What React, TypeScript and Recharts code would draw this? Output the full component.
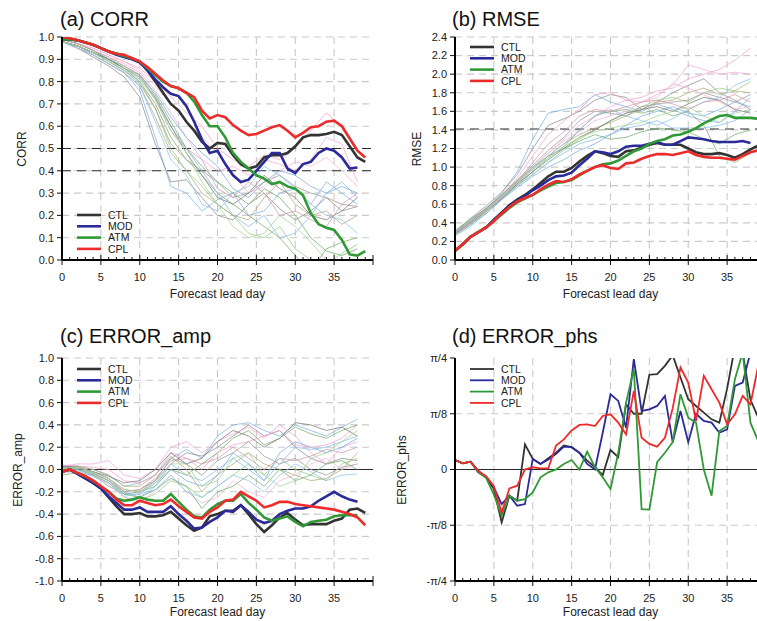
import React from "react";
import { CartesianGrid, Line, LineChart, ReferenceLine, XAxis, YAxis } from "recharts";

const FONT = "'Liberation Sans', Arial, Helvetica, sans-serif";

const DAYS = [
  0, 1, 2, 3, 4, 5, 6, 7, 8, 9, 10, 11, 12, 13, 14, 15, 16, 17, 18, 19,
  20, 21, 22, 23, 24, 25, 26, 27, 28, 29, 30, 31, 32, 33, 34, 35, 36, 37, 38, 39,
];
const X_TICKS = [
  0, 1, 2, 3, 4, 5, 6, 7, 8, 9, 10, 11, 12, 13, 14, 15, 16, 17, 18, 19, 20,
  21, 22, 23, 24, 25, 26, 27, 28, 29, 30, 31, 32, 33, 34, 35, 36, 37, 38, 39, 40,
];
const X_GRID = [5, 10, 15, 20, 25, 30, 35];
// ensemble members were read every second day
const THIN_DAYS = [0, 2, 4, 6, 8, 10, 12, 14, 16, 18, 20, 22, 24, 26, 28, 30, 32, 34, 36, 38];
const EXPERIMENTS = ["CTL", "MOD", "ATM", "CPL"];

// (a) CORR
const CORR_TICKS = [0, 0.1, 0.2, 0.3, 0.4, 0.5, 0.6, 0.7, 0.8, 0.9, 1.0];
const CORR_CTL = [
  0.99, 0.99, 0.985, 0.975, 0.965, 0.95, 0.935, 0.925, 0.915, 0.905,
  0.89, 0.85, 0.8, 0.75, 0.7, 0.67, 0.62, 0.58, 0.53, 0.5,
  0.525, 0.52, 0.47, 0.43, 0.41, 0.42, 0.46, 0.47, 0.47, 0.48,
  0.51, 0.55, 0.56, 0.56, 0.565, 0.575, 0.56, 0.51, 0.46, 0.44,
];
const CORR_MOD = [
  0.99, 0.99, 0.985, 0.975, 0.965, 0.95, 0.935, 0.92, 0.91, 0.9,
  0.885, 0.85, 0.81, 0.775, 0.745, 0.735, 0.69, 0.62, 0.54, 0.48,
  0.49, 0.43, 0.38, 0.35, 0.36, 0.4, 0.44, 0.48, 0.48, 0.41,
  0.39, 0.43, 0.44, 0.48, 0.5, 0.49, 0.46, 0.41, 0.415, null,
];
const CORR_ATM = [
  0.99, 0.99, 0.985, 0.975, 0.965, 0.95, 0.935, 0.925, 0.915, 0.905,
  0.89, 0.86, 0.83, 0.8, 0.78, 0.77, 0.75, 0.71, 0.65, 0.6,
  0.6, 0.55, 0.48, 0.44, 0.41, 0.38, 0.365, 0.34, 0.35, 0.33,
  0.32, 0.29, 0.21, 0.16, 0.145, 0.135, 0.09, 0.025, 0.02, 0.04,
];
const CORR_CPL = [
  1.0, 0.995, 0.985, 0.975, 0.965, 0.95, 0.935, 0.925, 0.92, 0.905,
  0.89, 0.865, 0.835, 0.805, 0.78, 0.77, 0.75, 0.73, 0.67, 0.635,
  0.65, 0.64, 0.605, 0.58, 0.56, 0.565, 0.58, 0.595, 0.605, 0.58,
  0.55, 0.57, 0.595, 0.6, 0.62, 0.625, 0.6, 0.545, 0.49, 0.46,
];
const CORR_MEMBERS = [
  [0.98, 0.95, 0.92, 0.88, 0.84, 0.76, 0.55, 0.33, 0.3, 0.22, 0.27, 0.3, 0.2, 0.22, 0.3, 0.32, 0.25, 0.35, 0.3, 0.25],
  [0.98, 0.95, 0.91, 0.87, 0.82, 0.73, 0.52, 0.35, 0.36, 0.28, 0.2, 0.18, 0.25, 0.3, 0.23, 0.18, 0.22, 0.28, 0.22, 0.24],
  [0.99, 0.97, 0.95, 0.92, 0.89, 0.86, 0.8, 0.73, 0.66, 0.6, 0.5, 0.45, 0.42, 0.47, 0.45, 0.5, 0.58, 0.66, 0.6, 0.5],
  [0.99, 0.97, 0.94, 0.91, 0.88, 0.84, 0.76, 0.66, 0.55, 0.45, 0.4, 0.42, 0.38, 0.45, 0.43, 0.4, 0.45, 0.55, 0.52, 0.35],
  [0.98, 0.96, 0.93, 0.9, 0.86, 0.8, 0.7, 0.55, 0.45, 0.38, 0.3, 0.25, 0.2, 0.15, 0.1, 0.02, -0.05, 0.05, 0.08, 0.1],
  [0.98, 0.96, 0.93, 0.89, 0.85, 0.8, 0.68, 0.5, 0.4, 0.33, 0.25, 0.2, 0.12, 0.1, 0.15, 0.05, 0.0, -0.02, 0.03, 0.07],
  [0.98, 0.96, 0.93, 0.9, 0.86, 0.81, 0.72, 0.6, 0.5, 0.4, 0.3, 0.2, 0.15, 0.2, 0.1, 0.12, 0.2, 0.3, 0.35, 0.28],
  [0.98, 0.96, 0.93, 0.89, 0.85, 0.79, 0.68, 0.52, 0.45, 0.4, 0.35, 0.28, 0.3, 0.35, 0.38, 0.33, 0.3, 0.28, 0.25, 0.24],
  [0.98, 0.96, 0.92, 0.88, 0.84, 0.78, 0.64, 0.48, 0.4, 0.3, 0.25, 0.2, 0.18, 0.28, 0.35, 0.25, 0.2, 0.22, 0.16, 0.2],
  [0.99, 0.97, 0.94, 0.9, 0.86, 0.83, 0.75, 0.64, 0.55, 0.48, 0.42, 0.32, 0.28, 0.35, 0.4, 0.38, 0.33, 0.3, 0.33, 0.3],
  [0.99, 0.97, 0.95, 0.92, 0.89, 0.85, 0.78, 0.7, 0.62, 0.55, 0.48, 0.38, 0.3, 0.33, 0.4, 0.44, 0.42, 0.46, 0.4, 0.33],
  [0.99, 0.97, 0.94, 0.9, 0.87, 0.83, 0.74, 0.62, 0.5, 0.42, 0.35, 0.3, 0.25, 0.32, 0.28, 0.2, 0.1, 0.04, 0.02, 0.05],
  [0.98, 0.96, 0.93, 0.9, 0.86, 0.82, 0.73, 0.6, 0.48, 0.38, 0.28, 0.25, 0.3, 0.38, 0.32, 0.28, 0.2, 0.18, 0.22, 0.28],
  [0.98, 0.95, 0.92, 0.88, 0.84, 0.78, 0.62, 0.45, 0.38, 0.25, 0.22, 0.3, 0.33, 0.42, 0.38, 0.32, 0.25, 0.2, 0.18, 0.12],
  [0.99, 0.97, 0.94, 0.91, 0.87, 0.83, 0.72, 0.58, 0.5, 0.45, 0.32, 0.28, 0.35, 0.3, 0.2, 0.22, 0.18, 0.15, 0.25, 0.3],
  [0.98, 0.96, 0.93, 0.89, 0.86, 0.82, 0.72, 0.58, 0.48, 0.35, 0.25, 0.15, 0.1, 0.12, 0.2, 0.15, 0.08, 0.0, -0.05, 0.0],
];

// (b) RMSE
const RMSE_TICKS = [0, 0.2, 0.4, 0.6, 0.8, 1.0, 1.2, 1.4, 1.6, 1.8, 2.0, 2.2, 2.4];
const RMSE_REF = 1.41;
const RMSE_CTL = [
  0.1, 0.17, 0.25, 0.3, 0.35, 0.43, 0.51, 0.59, 0.65, 0.7,
  0.76, 0.83, 0.9, 0.95, 0.95, 0.99, 1.06, 1.12, 1.17, 1.15,
  1.12, 1.11, 1.17, 1.18, 1.21, 1.24, 1.26, 1.24, 1.24, 1.24,
  1.2, 1.16, 1.14, 1.14, 1.15, 1.13, 1.1, 1.14, 1.19, 1.23,
];
const RMSE_MOD = [
  0.1, 0.17, 0.25, 0.3, 0.35, 0.43, 0.51, 0.58, 0.64, 0.69,
  0.75, 0.8, 0.86, 0.9, 0.91, 0.94, 1.02, 1.09, 1.17, 1.16,
  1.14, 1.17, 1.22, 1.23, 1.23, 1.25, 1.27, 1.24, 1.24, 1.28,
  1.32, 1.31, 1.3, 1.28, 1.27, 1.27, 1.27, 1.28, 1.26, null,
];
const RMSE_ATM = [
  0.1, 0.17, 0.25, 0.3, 0.35, 0.42, 0.49, 0.56, 0.62, 0.66,
  0.7, 0.75, 0.79, 0.83, 0.84, 0.86, 0.91, 0.96, 1.0, 1.03,
  1.04, 1.07, 1.12, 1.17, 1.2, 1.25, 1.28, 1.3, 1.34, 1.35,
  1.38, 1.42, 1.47, 1.51, 1.55, 1.56, 1.53, 1.53, 1.53, 1.52,
];
const RMSE_CPL = [
  0.1, 0.17, 0.25, 0.3, 0.35, 0.42, 0.5, 0.57, 0.63, 0.67,
  0.7, 0.76, 0.81, 0.85, 0.84, 0.87, 0.92, 0.96, 1.0, 1.02,
  0.99, 0.98, 1.04, 1.05, 1.09, 1.12, 1.14, 1.14, 1.13, 1.15,
  1.17, 1.13, 1.11, 1.1, 1.1, 1.09, 1.08, 1.12, 1.16, 1.18,
];
const RMSE_MEMBERS = [
  [0.3, 0.42, 0.55, 0.72, 0.95, 1.3, 1.58, 1.62, 1.65, 1.78, 1.7, 1.65, 1.6, 1.68, 1.62, 1.55, 1.5, 1.48, 1.6, 1.75],
  [0.3, 0.45, 0.58, 0.73, 0.92, 1.2, 1.45, 1.52, 1.6, 1.72, 1.78, 1.75, 1.62, 1.7, 1.8, 1.88, 1.95, 1.8, 1.72, 1.62],
  [0.28, 0.4, 0.55, 0.7, 0.88, 1.12, 1.35, 1.5, 1.62, 1.78, 1.8, 1.72, 1.75, 1.82, 1.85, 1.95, 2.0, 2.05, 2.15, 2.28],
  [0.27, 0.38, 0.52, 0.68, 0.82, 1.0, 1.15, 1.3, 1.45, 1.55, 1.65, 1.72, 1.7, 1.78, 1.88, 2.1, 2.05, 2.0, 2.02, 2.0],
  [0.32, 0.44, 0.55, 0.68, 0.8, 0.95, 1.1, 1.22, 1.4, 1.55, 1.6, 1.62, 1.58, 1.62, 1.55, 1.6, 1.45, 1.12, 1.05, 1.15],
  [0.28, 0.38, 0.52, 0.66, 0.8, 0.92, 1.05, 1.18, 1.3, 1.4, 1.5, 1.58, 1.65, 1.72, 1.75, 1.7, 1.8, 1.85, 1.82, 1.92],
  [0.26, 0.36, 0.5, 0.65, 0.8, 0.92, 1.05, 1.15, 1.25, 1.3, 1.35, 1.42, 1.45, 1.5, 1.42, 1.42, 1.42, 1.45, 1.5, 1.62],
  [0.3, 0.42, 0.55, 0.7, 0.86, 1.02, 1.18, 1.32, 1.5, 1.6, 1.58, 1.55, 1.65, 1.68, 1.7, 1.72, 1.8, 1.75, 1.7, 1.78],
  [0.29, 0.4, 0.53, 0.67, 0.82, 0.98, 1.12, 1.25, 1.35, 1.42, 1.48, 1.55, 1.62, 1.7, 1.72, 1.8, 1.85, 1.78, 1.82, 1.8],
  [0.27, 0.38, 0.5, 0.65, 0.78, 0.9, 1.0, 1.08, 1.18, 1.25, 1.35, 1.45, 1.55, 1.6, 1.65, 1.58, 1.55, 1.62, 1.7, 1.65],
  [0.28, 0.4, 0.54, 0.69, 0.84, 1.0, 1.15, 1.28, 1.38, 1.5, 1.55, 1.6, 1.7, 1.75, 1.9, 1.85, 1.78, 1.7, 1.62, 1.65],
  [0.3, 0.43, 0.56, 0.7, 0.85, 1.0, 1.12, 1.2, 1.28, 1.35, 1.3, 1.32, 1.38, 1.42, 1.4, 1.38, 1.3, 1.25, 1.35, 1.4],
  [0.28, 0.4, 0.52, 0.66, 0.82, 0.95, 1.08, 1.2, 1.32, 1.4, 1.5, 1.58, 1.62, 1.65, 1.6, 1.68, 1.75, 1.72, 1.62, 1.58],
  [0.3, 0.42, 0.54, 0.68, 0.84, 0.98, 1.12, 1.25, 1.4, 1.55, 1.62, 1.55, 1.5, 1.45, 1.52, 1.62, 1.7, 1.75, 1.88, 1.95],
  [0.29, 0.41, 0.54, 0.68, 0.84, 1.05, 1.25, 1.38, 1.55, 1.62, 1.6, 1.65, 1.7, 1.72, 1.68, 1.62, 1.7, 1.72, 1.78, 1.7],
  [0.27, 0.38, 0.52, 0.67, 0.83, 0.97, 1.1, 1.22, 1.32, 1.38, 1.42, 1.45, 1.48, 1.55, 1.6, 1.65, 1.55, 1.48, 1.58, 1.62],
];

// (c) ERROR_amp
const AMP_TICKS = [-1.0, -0.8, -0.6, -0.4, -0.2, 0, 0.2, 0.4, 0.6, 0.8, 1.0];
const AMP_CTL = [
  -0.02, 0.0, -0.04, -0.08, -0.12, -0.17, -0.25, -0.33, -0.4, -0.4,
  -0.39, -0.42, -0.42, -0.41, -0.38, -0.44, -0.5, -0.55, -0.52, -0.42,
  -0.4, -0.37, -0.37, -0.32, -0.4, -0.49, -0.56, -0.5, -0.43, -0.39,
  -0.45, -0.5, -0.49, -0.49, -0.49, -0.46, -0.44, -0.36, -0.35, -0.39,
];
const AMP_MOD = [
  -0.02, 0.0, -0.04, -0.08, -0.12, -0.17, -0.24, -0.3, -0.36, -0.36,
  -0.34, -0.38, -0.38, -0.38, -0.33, -0.4, -0.46, -0.53, -0.52, -0.47,
  -0.43, -0.37, -0.38, -0.32, -0.38, -0.45, -0.48, -0.46, -0.4, -0.37,
  -0.35, -0.35, -0.33, -0.28, -0.24, -0.2, -0.24, -0.27, -0.29, null,
];
const AMP_ATM = [
  -0.02, 0.0, -0.03, -0.06, -0.1, -0.15, -0.2, -0.26, -0.28, -0.27,
  -0.25, -0.27, -0.28, -0.28, -0.22, -0.29, -0.36, -0.42, -0.43, -0.36,
  -0.31, -0.28, -0.28, -0.22, -0.3, -0.36, -0.43, -0.46, -0.44, -0.42,
  -0.47, -0.51, -0.47, -0.46, -0.45, -0.42, -0.41, -0.41, -0.41, null,
];
const AMP_CPL = [
  -0.02, 0.0, -0.03, -0.06, -0.1, -0.15, -0.2, -0.27, -0.32, -0.32,
  -0.28, -0.3, -0.32, -0.31, -0.27, -0.33, -0.38, -0.43, -0.44, -0.38,
  -0.34, -0.28, -0.27, -0.2, -0.24, -0.28, -0.34, -0.32, -0.29, -0.29,
  -0.31, -0.32, -0.33, -0.34, -0.35, -0.36, -0.38, -0.4, -0.43, -0.5,
];
const AMP_MEMBERS = [
  [0.03, 0.03, 0.0, -0.05, -0.15, -0.12, -0.05, 0.1, 0.18, 0.1, 0.3, 0.4, 0.42, 0.35, 0.3, 0.4, 0.35, 0.3, 0.38, 0.45],
  [0.02, 0.02, -0.02, -0.08, -0.2, -0.18, -0.1, 0.05, 0.15, 0.12, 0.2, 0.3, 0.4, 0.3, 0.35, 0.2, 0.1, 0.05, 0.1, 0.08],
  [0.04, 0.03, 0.02, 0.0, -0.1, -0.12, -0.05, 0.15, 0.1, 0.0, 0.15, 0.22, 0.25, 0.3, 0.35, 0.22, 0.2, 0.22, 0.28, 0.4],
  [0.03, 0.05, 0.05, 0.08, -0.05, -0.08, 0.0, 0.2, 0.25, 0.15, 0.25, 0.32, 0.38, 0.28, 0.4, 0.3, 0.15, 0.05, 0.2, 0.25],
  [-0.05, -0.03, -0.05, -0.12, -0.22, -0.2, -0.15, 0.0, -0.05, 0.05, 0.15, 0.28, 0.35, 0.22, 0.28, 0.38, 0.32, 0.28, 0.35, 0.4],
  [0.0, 0.0, -0.05, -0.12, -0.25, -0.28, -0.22, -0.1, -0.15, -0.25, -0.15, -0.05, 0.05, -0.05, 0.1, 0.0, -0.05, -0.1, 0.05, 0.1],
  [0.02, 0.02, -0.03, -0.1, -0.2, -0.25, -0.15, 0.05, -0.05, -0.1, 0.0, 0.1, 0.0, -0.1, 0.05, 0.2, 0.18, 0.2, 0.25, 0.3],
  [0.01, 0.02, -0.02, -0.08, -0.18, -0.2, -0.1, 0.1, 0.05, -0.05, 0.08, 0.15, 0.25, 0.12, 0.05, 0.1, 0.0, -0.05, 0.02, 0.05],
  [0.02, 0.03, 0.0, -0.05, -0.15, -0.15, -0.05, 0.12, 0.0, -0.2, -0.05, 0.05, 0.15, 0.05, 0.0, -0.05, -0.1, -0.08, 0.0, 0.15],
  [-0.02, 0.0, -0.05, -0.15, -0.22, -0.22, -0.12, 0.0, -0.1, -0.15, -0.05, 0.15, 0.05, -0.1, 0.15, 0.25, 0.2, 0.15, 0.2, 0.28],
  [-0.03, -0.02, -0.06, -0.14, -0.25, -0.28, -0.2, -0.05, -0.2, -0.3, -0.25, -0.1, -0.2, -0.25, -0.1, -0.05, 0.05, 0.1, 0.0, 0.05],
  [0.0, 0.01, -0.04, -0.1, -0.22, -0.25, -0.18, -0.08, -0.15, -0.35, -0.2, -0.15, -0.05, -0.15, 0.0, -0.1, -0.05, 0.05, 0.08, 0.0],
  [0.03, 0.02, -0.02, -0.06, -0.12, -0.1, 0.0, 0.15, 0.05, 0.1, 0.25, 0.35, 0.3, 0.2, 0.28, 0.42, 0.4, 0.35, 0.38, 0.3],
  [-0.02, -0.01, -0.06, -0.12, -0.24, -0.22, -0.18, -0.05, -0.2, -0.25, -0.15, -0.05, -0.1, -0.2, -0.05, 0.05, -0.02, -0.1, -0.05, -0.04],
  [0.0, 0.02, -0.03, -0.1, -0.2, -0.18, -0.08, 0.08, 0.1, 0.05, 0.1, 0.2, 0.1, 0.0, 0.1, 0.08, 0.12, 0.18, 0.15, 0.2],
  [0.01, 0.02, -0.02, -0.08, -0.18, -0.2, -0.12, 0.05, 0.05, -0.15, -0.1, 0.1, 0.15, -0.05, -0.15, -0.1, 0.1, 0.15, 0.25, 0.35],
];

// (d) ERROR_phs, values in units of pi/8
const PHS_TICKS = [-2, -1, 0, 1, 2];
const PHS_LABELS = ["-\u03c0/4", "-\u03c0/8", "0", "\u03c0/8", "\u03c0/4"];
const PHS_CTL = [
  0.17, 0.11, 0.14, -0.02, -0.14, -0.35, -0.95, -0.47, -0.56, 0.45,
  0.19, 0.1, 0.2, 0.3, 0.43, 0.4, 0.3, 0.16, 0.04, -0.1,
  0.35, 0.22, 1.17, 1.0, 1.0, 1.7, 1.71, 1.86, 2.05, 1.65,
  1.26, 1.14, 1.02, 0.9, 0.84, 1.45, 2.2, 2.1, 1.25, 0.93,
];
const PHS_MOD = [
  0.17, 0.11, 0.14, -0.05, -0.13, -0.32, -0.62, -0.47, -0.65, -0.62,
  0.19, 0.1, 0.18, 0.28, 0.41, 0.4, 0.3, 0.1, 0.0, 0.66,
  1.35, 1.23, 0.75, 1.98, 1.05, 1.08, 1.14, 1.32, 0.49, 1.05,
  0.49, 1.0, 0.87, 0.84, 0.66, 0.72, 1.5, 1.56, 2.1, 2.4,
];
const PHS_ATM = [
  0.17, 0.11, 0.14, -0.05, -0.15, -0.45, -0.83, -0.47, -0.56, -0.53,
  -0.41, -0.14, -0.05, 0.0, 0.1, 0.17, 0.0, 0.32, 0.04, -0.14,
  -0.35, 0.3, 1.2, 1.8, -0.71, -0.72, 0.13, 0.3, 0.49, 1.35,
  0.93, 0.84, 0.0, -0.47, 0.69, 0.78, 1.62, 2.1, 0.84, 0.51,
];
const PHS_CPL = [
  0.17, 0.11, 0.14, -0.03, -0.12, -0.3, -0.77, -0.34, -0.29, 0.0,
  0.04, 0.02, 0.02, 0.43, 0.54, 0.7, 0.8, 0.81, 0.78, 0.96,
  0.99, 0.84, 0.63, 1.41, 0.57, 0.46, 0.41, 0.57, 1.1, 1.83,
  1.56, 0.87, 1.68, 1.44, 1.2, 0.81, 0.99, 1.32, 1.17, 1.86,
];

const THICK_COLORS = ["#333333", "#2a2a99", "#2f9a35", "#ee2b2b"];
const THIN_COLORS = [
  "#7fb2e5", "#8f8f8f", "#f3a3cf", "#f1a9d6", "#7fae6a", "#94cc86", "#86bde8", "#9a9a9a",
  "#b4a87c", "#79aee0", "#f5b5d8", "#6fb06f", "#7a7a7a", "#8cc2ec", "#d49aa8", "#a3d398",
];

const CHART_H = 305;
const PLOT_TOP = 37;
const PLOT_H = 223;

type Row = Record<string, number | null>;

function buildRows(thick: (number | null)[][], members: number[][]): Row[] {
  return DAYS.map((day, i) => {
    const row: Row = { day };
    thick.forEach((values, k) => {
      row[EXPERIMENTS[k]] = values[i] ?? null;
    });
    const j = THIN_DAYS.indexOf(day);
    members.forEach((m, k) => {
      row[`m${k}`] = j >= 0 ? m[j] : null;
    });
    return row;
  });
}

function DayTick(props: any) {
  const { x, y, payload } = props;
  const v = Number(payload.value);
  const major = v % 5 === 0;
  return (
    <g>
      <line x1={x} x2={x} y1={major ? y - 5 : y - 3} y2={major ? y + 5 : y} stroke="#111" strokeWidth={1} />
      {major && v < 40 ? (
        <text x={x} y={y + 21} textAnchor="middle" fontSize={11} fill="#222" fontFamily={FONT}>
          {v}
        </text>
      ) : null}
    </g>
  );
}

type PanelProps = {
  left: number;
  top: number;
  width: number;
  yAxisWidth: number;
  title: string;
  titleX: number;
  titleTop: number;
  yTitle: string;
  yTitleX: number;
  domain: [number, number];
  yTicks: number[];
  gridY: number[];
  yFormat?: (v: number) => string;
  thick: (number | null)[][];
  members: number[][];
  thickWidth: number;
  refs: { y: number; dashed: boolean }[];
  legendX: number;
  legendY: number;
  xLabelOffset: number;
};

function Panel(p: PanelProps) {
  const rows = buildRows(p.thick, p.members);
  return (
    <div style={{ position: "absolute", left: p.left, top: p.top, width: p.width, height: CHART_H }}>
      <LineChart
        width={p.width}
        height={CHART_H}
        data={rows}
        margin={{ top: PLOT_TOP, right: 7, bottom: 0, left: 0 }}
      >
        <CartesianGrid
          stroke="#c9c9c9"
          strokeDasharray="7 5"
          strokeWidth={1.1}
          verticalValues={X_GRID}
          horizontalValues={p.gridY}
        />
        {p.refs.map((r) => (
          <ReferenceLine
            key={r.y}
            y={r.y}
            stroke="#2a2a2a"
            strokeWidth={1.1}
            strokeDasharray={r.dashed ? "9 6" : undefined}
          />
        ))}
        <XAxis
          dataKey="day"
          type="number"
          domain={[0, 40]}
          ticks={X_TICKS}
          interval={0}
          tickSize={0}
          tickMargin={0}
          tickLine={false}
          tick={(t: any) => <DayTick {...t} />}
          axisLine={{ stroke: "#000", strokeWidth: 2 }}
          height={45}
          label={{
            value: "Forecast lead day",
            position: "insideBottom",
            offset: p.xLabelOffset,
            fill: "#222",
            fontSize: 12,
            fontFamily: FONT,
          }}
        />
        <XAxis
          xAxisId="top"
          orientation="top"
          type="number"
          domain={[0, 40]}
          height={0}
          tick={false}
          tickLine={false}
          axisLine={{ stroke: "#000", strokeWidth: 2 }}
        />
        <YAxis
          type="number"
          domain={p.domain}
          ticks={p.yTicks}
          interval={0}
          allowDataOverflow
          width={p.yAxisWidth}
          tickSize={5}
          tickMargin={3}
          tickLine={{ stroke: "#111" }}
          axisLine={{ stroke: "#000", strokeWidth: 2 }}
          tick={{ fill: "#222", fontSize: 11, fontFamily: FONT }}
          tickFormatter={p.yFormat}
        />
        <YAxis
          yAxisId="right"
          orientation="right"
          type="number"
          domain={p.domain}
          width={0}
          tick={false}
          tickLine={false}
          axisLine={{ stroke: "#000", strokeWidth: 2 }}
        />
        {p.members.map((_, k) => (
          <Line
            key={`m${k}`}
            dataKey={`m${k}`}
            type="linear"
            stroke={THIN_COLORS[k % THIN_COLORS.length]}
            strokeWidth={0.9}
            strokeOpacity={0.85}
            dot={false}
            activeDot={false}
            connectNulls
            isAnimationActive={false}
          />
        ))}
        {EXPERIMENTS.map((name, k) => (
          <Line
            key={name}
            dataKey={name}
            type="linear"
            stroke={THICK_COLORS[k]}
            strokeWidth={p.thickWidth}
            dot={false}
            activeDot={false}
            isAnimationActive={false}
          />
        ))}
      </LineChart>

      <div
        style={{
          position: "absolute",
          left: p.titleX,
          top: p.titleTop,
          fontFamily: FONT,
          fontSize: 20,
          lineHeight: "20px",
          color: "#111",
          whiteSpace: "nowrap",
        }}
      >
        {p.title}
      </div>
      <div
        style={{
          position: "absolute",
          left: p.yTitleX,
          top: PLOT_TOP + PLOT_H / 2,
          transform: "translate(-50%, -50%) rotate(-90deg)",
          fontFamily: FONT,
          fontSize: 12,
          color: "#222",
          whiteSpace: "nowrap",
        }}
      >
        {p.yTitle}
      </div>
      <svg
        width={p.width}
        height={CHART_H}
        style={{ position: "absolute", left: 0, top: 0, pointerEvents: "none" }}
      >
        {EXPERIMENTS.map((name, k) => {
          const y = p.legendY + k * 11.3;
          return (
            <g key={name}>
              <line
                x1={p.legendX}
                x2={p.legendX + 24}
                y1={y}
                y2={y}
                stroke={THICK_COLORS[k]}
                strokeWidth={p.thickWidth}
              />
              <text x={p.legendX + 31} y={y + 3.8} fontSize={10.5} fontFamily={FONT} fill="#222">
                {name}
              </text>
            </g>
          );
        })}
      </svg>
    </div>
  );
}

export default function App() {
  return (
    <div
      style={{
        position: "absolute",
        left: 0,
        top: 0,
        width: 757,
        height: 621,
        overflow: "hidden",
        background: "#fff",
      }}
    >
      <Panel
        left={0}
        top={0}
        width={380}
        yAxisWidth={62}
        title="(a) CORR"
        titleX={60}
        titleTop={9}
        yTitle="CORR"
        yTitleX={22}
        domain={[0, 1]}
        yTicks={CORR_TICKS}
        gridY={CORR_TICKS}
        yFormat={(v) => v.toFixed(1)}
        thick={[CORR_CTL, CORR_MOD, CORR_ATM, CORR_CPL]}
        members={CORR_MEMBERS}
        thickWidth={2.6}
        refs={[
          { y: 0.5, dashed: true },
          { y: 0.4, dashed: true },
        ]}
        legendX={77}
        legendY={215}
        xLabelOffset={7}
      />
      <Panel
        left={380}
        top={0}
        width={393}
        yAxisWidth={75}
        title="(b) RMSE"
        titleX={72}
        titleTop={9}
        yTitle="RMSE"
        yTitleX={37}
        domain={[0, 2.4]}
        yTicks={RMSE_TICKS}
        gridY={RMSE_TICKS}
        yFormat={(v) => v.toFixed(1)}
        thick={[RMSE_CTL, RMSE_MOD, RMSE_ATM, RMSE_CPL]}
        members={RMSE_MEMBERS}
        thickWidth={2.6}
        refs={[{ y: RMSE_REF, dashed: true }]}
        legendX={90}
        legendY={47}
        xLabelOffset={7}
      />
      <Panel
        left={0}
        top={321}
        width={380}
        yAxisWidth={62}
        title="(c) ERROR_amp"
        titleX={60}
        titleTop={5}
        yTitle="ERROR_amp"
        yTitleX={18}
        domain={[-1, 1]}
        yTicks={AMP_TICKS}
        gridY={AMP_TICKS}
        yFormat={(v) => v.toFixed(1)}
        thick={[AMP_CTL, AMP_MOD, AMP_ATM, AMP_CPL]}
        members={AMP_MEMBERS}
        thickWidth={2.6}
        refs={[{ y: 0, dashed: false }]}
        legendX={77}
        legendY={48}
        xLabelOffset={10}
      />
      <Panel
        left={380}
        top={321}
        width={393}
        yAxisWidth={75}
        title="(d) ERROR_phs"
        titleX={72}
        titleTop={5}
        yTitle="ERROR_phs"
        yTitleX={22}
        domain={[-2, 2]}
        yTicks={PHS_TICKS}
        gridY={[-1, 1]}
        yFormat={(v) => PHS_LABELS[PHS_TICKS.indexOf(v)]}
        thick={[PHS_CTL, PHS_MOD, PHS_ATM, PHS_CPL]}
        members={[]}
        thickWidth={1.8}
        refs={[{ y: 0, dashed: false }]}
        legendX={90}
        legendY={48}
        xLabelOffset={10}
      />
    </div>
  );
}
